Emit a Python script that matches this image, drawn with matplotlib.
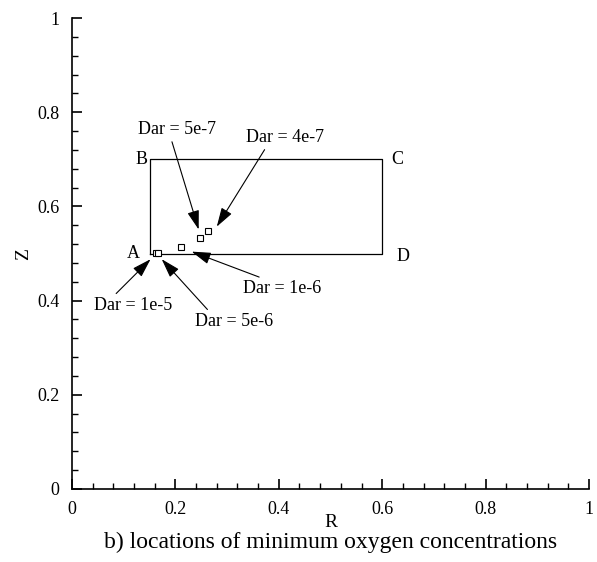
import numpy as np
import matplotlib
matplotlib.use("Agg")
import matplotlib.pyplot as plt
from matplotlib.ticker import MultipleLocator

plt.rcParams['font.family'] = ['Liberation Serif', 'DejaVu Serif']
plt.rcParams['mathtext.fontset'] = 'stix'

# domain outline A-B-C-D
box_r = [0.15, 0.15, 0.6, 0.6, 0.15]
box_z = [0.5, 0.7, 0.7, 0.5, 0.5]
corner_names = ["A", "B", "C", "D"]
corner_r = [0.15, 0.15, 0.6, 0.6]
corner_z = [0.5, 0.7, 0.7, 0.5]

# minimum oxygen locations for each Darcy number
dar_labels = ["Dar = 1e-5", "Dar = 5e-6", "Dar = 1e-6", "Dar = 5e-7", "Dar = 4e-7"]
min_r = [0.162, 0.166, 0.211, 0.248, 0.264]
min_z = [0.501, 0.501, 0.514, 0.533, 0.548]

# where the arrows point and where the text sits
arrow_r = [0.152, 0.1735, 0.2315, 0.245, 0.280]
arrow_z = [0.488, 0.488, 0.504, 0.551, 0.557]
text_r = [0.119, 0.314, 0.406, 0.203, 0.412]
text_z = [0.389, 0.355, 0.425, 0.764, 0.747]
# point on the text box where the arrow leaves
tail_rel = [(0.23, 1.0), (0.2, 1.0), (0.32, 1.0), (0.42, 0.0), (0.27, 0.0)]

fig = plt.figure(figsize=(5.97, 5.62), dpi=100)
ax = fig.add_axes([0.1206, 0.1299, 0.866, 0.838])

ax.plot(box_r, box_z, color="black", lw=0.9)
ax.plot(min_r, min_z, ls="none", marker="s", ms=4.5, mfc="white",
        mec="black", mew=0.8)

# corner letters
offs = [(-12, 0), (-6, 0), (11, 0), (15, -2)]
for name, r, z, (dx, dy) in zip(corner_names, corner_r, corner_z, offs):
    ax.annotate(name, (r, z), xytext=(dx, dy), textcoords="offset points",
                ha="center", va="center", fontsize=13)

for lab, ar, az, tr, tz, rp in zip(dar_labels, arrow_r, arrow_z,
                                   text_r, text_z, tail_rel):
    ax.annotate(lab, xy=(ar, az), xytext=(tr, tz), ha="center", va="center",
                fontsize=13,
                arrowprops=dict(arrowstyle="-|>,head_length=0.9,head_width=0.28",
                                color="black", lw=0.8, relpos=rp,
                                shrinkA=1, shrinkB=0))

ax.set_xlim(0, 1)
ax.set_ylim(0, 1)
ax.spines["top"].set_visible(False)
ax.spines["right"].set_visible(False)
for s in ("left", "bottom"):
    ax.spines[s].set_linewidth(1.2)

ax.xaxis.set_major_locator(MultipleLocator(0.2))
ax.xaxis.set_minor_locator(MultipleLocator(0.04))
ax.yaxis.set_major_locator(MultipleLocator(0.2))
ax.yaxis.set_minor_locator(MultipleLocator(0.04))
ax.xaxis.set_major_formatter(lambda v, p: f"{v:g}")
ax.yaxis.set_major_formatter(lambda v, p: f"{v:g}")
ax.tick_params(which="major", direction="in", length=7, width=1.2,
               labelsize=13, pad=9)
ax.tick_params(which="minor", direction="in", length=4.5, width=1.0)

ax.set_xlabel("R", fontsize=14, labelpad=-3)
ax.set_ylabel("Z", fontsize=14, labelpad=4)
fig.text(0.553, 0.034, "b) locations of minimum oxygen concentrations",
         ha="center", va="center", fontsize=17)

fig.savefig("out.png", dpi=100)
